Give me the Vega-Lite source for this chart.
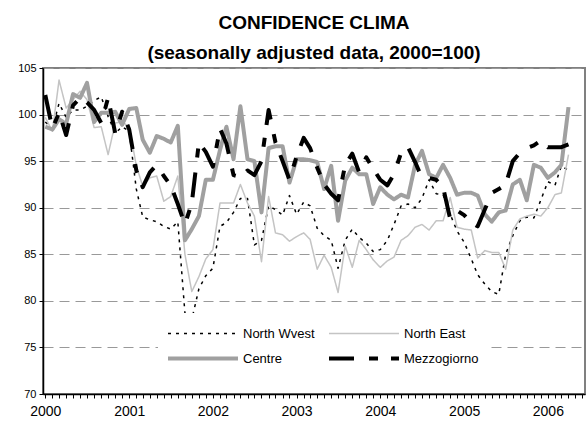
{
  "$schema": "https://vega.github.io/schema/vega-lite/v6.json",
  "width": 542,
  "height": 326,
  "autosize": {"type": "none"},
  "padding": {"left": 43, "top": 68, "right": 3, "bottom": 29},
  "background": "white",
  "title": {
    "text": ["CONFIDENCE CLIMA", "(seasonally adjusted data, 2000=100)"],
    "font": "Liberation Sans",
    "fontSize": 19,
    "fontWeight": "bold",
    "color": "black",
    "lineHeight": 30,
    "anchor": "middle",
    "offset": 3,
    "dy": 4
  },
  "config": {
    "view": {"stroke": "#808080", "strokeWidth": 2},
    "font": "Liberation Sans"
  },
  "data": {
    "values": [
      {"date": "2000-01-01", "North Wvest": 99.2, "North East": 99.7, "Centre": 98.7, "Mezzogiorno": 102.1},
      {"date": "2000-02-01", "North Wvest": 98.5, "North East": 98.2, "Centre": 98.4, "Mezzogiorno": 98.5},
      {"date": "2000-03-01", "North Wvest": 101.2, "North East": 103.7, "Centre": 99.5, "Mezzogiorno": 100.2},
      {"date": "2000-04-01", "North Wvest": 99.7, "North East": 100.7, "Centre": 99.0, "Mezzogiorno": 97.8},
      {"date": "2000-05-01", "North Wvest": 100.5, "North East": 101.6, "Centre": 102.2, "Mezzogiorno": 101.0},
      {"date": "2000-06-01", "North Wvest": 100.5, "North East": 102.5, "Centre": 101.8, "Mezzogiorno": 101.8},
      {"date": "2000-07-01", "North Wvest": 100.9, "North East": 101.6, "Centre": 103.4, "Mezzogiorno": 101.3},
      {"date": "2000-08-01", "North Wvest": 101.5, "North East": 98.6, "Centre": 99.2, "Mezzogiorno": 100.5},
      {"date": "2000-09-01", "North Wvest": 101.9, "North East": 98.7, "Centre": 100.2, "Mezzogiorno": 99.1},
      {"date": "2000-10-01", "North Wvest": 99.8, "North East": 95.7, "Centre": 100.2, "Mezzogiorno": 101.8},
      {"date": "2000-11-01", "North Wvest": 98.0, "North East": 99.1, "Centre": 100.3, "Mezzogiorno": 98.0},
      {"date": "2000-12-01", "North Wvest": 98.7, "North East": 99.2, "Centre": 98.9, "Mezzogiorno": 100.3},
      {"date": "2001-01-01", "North Wvest": 98.2, "North East": 98.7, "Centre": 100.6, "Mezzogiorno": 98.4},
      {"date": "2001-02-01", "North Wvest": 92.0, "North East": 94.5, "Centre": 100.7, "Mezzogiorno": 94.0},
      {"date": "2001-03-01", "North Wvest": 89.0, "North East": 92.3, "Centre": 97.3, "Mezzogiorno": 92.2},
      {"date": "2001-04-01", "North Wvest": 88.7, "North East": 93.2, "Centre": 95.9, "Mezzogiorno": 93.8},
      {"date": "2001-05-01", "North Wvest": 88.5, "North East": 93.4, "Centre": 97.7, "Mezzogiorno": 94.6},
      {"date": "2001-06-01", "North Wvest": 88.0, "North East": 90.7, "Centre": 97.4, "Mezzogiorno": 93.4},
      {"date": "2001-07-01", "North Wvest": 87.7, "North East": 91.2, "Centre": 97.0, "Mezzogiorno": 92.4},
      {"date": "2001-08-01", "North Wvest": 88.5, "North East": 93.4, "Centre": 98.8, "Mezzogiorno": 90.4},
      {"date": "2001-09-01", "North Wvest": 78.7, "North East": 85.0, "Centre": 86.5, "Mezzogiorno": 88.2},
      {"date": "2001-10-01", "North Wvest": 78.0, "North East": 81.0, "Centre": 87.7, "Mezzogiorno": 90.5},
      {"date": "2001-11-01", "North Wvest": 81.3, "North East": 82.6, "Centre": 89.1, "Mezzogiorno": 97.0},
      {"date": "2001-12-01", "North Wvest": 82.7, "North East": 84.5, "Centre": 93.0, "Mezzogiorno": 96.0},
      {"date": "2002-01-01", "North Wvest": 83.5, "North East": 85.5, "Centre": 93.0, "Mezzogiorno": 94.4},
      {"date": "2002-02-01", "North Wvest": 88.0, "North East": 90.5, "Centre": 96.2, "Mezzogiorno": 98.5},
      {"date": "2002-03-01", "North Wvest": 88.4, "North East": 90.5, "Centre": 98.7, "Mezzogiorno": 96.9},
      {"date": "2002-04-01", "North Wvest": 89.5, "North East": 90.5, "Centre": 95.2, "Mezzogiorno": 93.5},
      {"date": "2002-05-01", "North Wvest": 91.0, "North East": 92.5, "Centre": 100.9, "Mezzogiorno": 93.3},
      {"date": "2002-06-01", "North Wvest": 91.0, "North East": 90.5, "Centre": 95.2, "Mezzogiorno": 94.0},
      {"date": "2002-07-01", "North Wvest": 86.0, "North East": 89.1, "Centre": 95.0, "Mezzogiorno": 93.5},
      {"date": "2002-08-01", "North Wvest": 86.5, "North East": 84.2, "Centre": 89.5, "Mezzogiorno": 95.0},
      {"date": "2002-09-01", "North Wvest": 90.2, "North East": 91.2, "Centre": 96.4, "Mezzogiorno": 100.5},
      {"date": "2002-10-01", "North Wvest": 89.8, "North East": 87.3, "Centre": 96.6, "Mezzogiorno": 97.0},
      {"date": "2002-11-01", "North Wvest": 89.2, "North East": 87.1, "Centre": 96.6, "Mezzogiorno": 95.0},
      {"date": "2002-12-01", "North Wvest": 91.3, "North East": 86.4, "Centre": 92.7, "Mezzogiorno": 93.0},
      {"date": "2003-01-01", "North Wvest": 89.3, "North East": 86.9, "Centre": 95.2, "Mezzogiorno": 95.5},
      {"date": "2003-02-01", "North Wvest": 90.6, "North East": 87.3, "Centre": 95.2, "Mezzogiorno": 97.5},
      {"date": "2003-03-01", "North Wvest": 90.2, "North East": 86.6, "Centre": 95.1, "Mezzogiorno": 96.4},
      {"date": "2003-04-01", "North Wvest": 87.8, "North East": 83.4, "Centre": 94.9, "Mezzogiorno": 94.3},
      {"date": "2003-05-01", "North Wvest": 87.0, "North East": 84.9, "Centre": 92.0, "Mezzogiorno": 92.5},
      {"date": "2003-06-01", "North Wvest": 86.5, "North East": 83.6, "Centre": 94.5, "Mezzogiorno": 91.5},
      {"date": "2003-07-01", "North Wvest": 83.5, "North East": 80.9, "Centre": 88.6, "Mezzogiorno": 90.8},
      {"date": "2003-08-01", "North Wvest": 86.5, "North East": 85.9, "Centre": 92.9, "Mezzogiorno": 94.6},
      {"date": "2003-09-01", "North Wvest": 87.7, "North East": 83.6, "Centre": 94.3, "Mezzogiorno": 95.8},
      {"date": "2003-10-01", "North Wvest": 86.8, "North East": 86.5, "Centre": 93.6, "Mezzogiorno": 93.8},
      {"date": "2003-11-01", "North Wvest": 86.2, "North East": 85.5, "Centre": 93.6, "Mezzogiorno": 95.4},
      {"date": "2003-12-01", "North Wvest": 85.3, "North East": 84.4, "Centre": 90.4, "Mezzogiorno": 94.2},
      {"date": "2004-01-01", "North Wvest": 85.5, "North East": 83.6, "Centre": 92.2, "Mezzogiorno": 93.0},
      {"date": "2004-02-01", "North Wvest": 86.5, "North East": 84.3, "Centre": 91.4, "Mezzogiorno": 92.4},
      {"date": "2004-03-01", "North Wvest": 88.2, "North East": 84.7, "Centre": 90.9, "Mezzogiorno": 93.6},
      {"date": "2004-04-01", "North Wvest": 90.2, "North East": 86.5, "Centre": 91.4, "Mezzogiorno": 95.9},
      {"date": "2004-05-01", "North Wvest": 90.4, "North East": 87.0, "Centre": 91.1, "Mezzogiorno": 96.5},
      {"date": "2004-06-01", "North Wvest": 90.0, "North East": 87.9, "Centre": 94.6, "Mezzogiorno": 94.9},
      {"date": "2004-07-01", "North Wvest": 91.0, "North East": 88.2, "Centre": 96.1, "Mezzogiorno": 93.2},
      {"date": "2004-08-01", "North Wvest": 93.0, "North East": 87.6, "Centre": 93.6, "Mezzogiorno": 93.2},
      {"date": "2004-09-01", "North Wvest": 91.5, "North East": 88.6, "Centre": 93.2, "Mezzogiorno": 93.0},
      {"date": "2004-10-01", "North Wvest": 91.4, "North East": 88.6, "Centre": 94.6, "Mezzogiorno": 92.2},
      {"date": "2004-11-01", "North Wvest": 89.3, "North East": 91.1, "Centre": 93.2, "Mezzogiorno": 88.8},
      {"date": "2004-12-01", "North Wvest": 87.5, "North East": 87.9, "Centre": 91.4, "Mezzogiorno": 89.7},
      {"date": "2005-01-01", "North Wvest": 86.3, "North East": 87.7, "Centre": 91.6, "Mezzogiorno": 89.2},
      {"date": "2005-02-01", "North Wvest": 84.5, "North East": 87.6, "Centre": 91.6, "Mezzogiorno": 88.4},
      {"date": "2005-03-01", "North Wvest": 82.8, "North East": 84.6, "Centre": 91.3, "Mezzogiorno": 88.0},
      {"date": "2005-04-01", "North Wvest": 81.8, "North East": 85.4, "Centre": 89.3, "Mezzogiorno": 89.8},
      {"date": "2005-05-01", "North Wvest": 81.0, "North East": 85.2, "Centre": 88.5, "Mezzogiorno": 91.6},
      {"date": "2005-06-01", "North Wvest": 80.7, "North East": 85.2, "Centre": 89.5, "Mezzogiorno": 92.0},
      {"date": "2005-07-01", "North Wvest": 85.0, "North East": 83.4, "Centre": 89.7, "Mezzogiorno": 92.5},
      {"date": "2005-08-01", "North Wvest": 87.0, "North East": 87.6, "Centre": 92.5, "Mezzogiorno": 95.0},
      {"date": "2005-09-01", "North Wvest": 88.6, "North East": 88.8, "Centre": 93.0, "Mezzogiorno": 95.9},
      {"date": "2005-10-01", "North Wvest": 89.0, "North East": 89.1, "Centre": 90.8, "Mezzogiorno": 96.4},
      {"date": "2005-11-01", "North Wvest": 88.9, "North East": 89.3, "Centre": 94.6, "Mezzogiorno": 96.7},
      {"date": "2005-12-01", "North Wvest": 90.8, "North East": 89.1, "Centre": 94.3, "Mezzogiorno": 97.2},
      {"date": "2006-01-01", "North Wvest": 92.8, "North East": 90.0, "Centre": 93.2, "Mezzogiorno": 96.5},
      {"date": "2006-02-01", "North Wvest": 92.4, "North East": 91.4, "Centre": 93.8, "Mezzogiorno": 96.5},
      {"date": "2006-03-01", "North Wvest": 94.5, "North East": 91.6, "Centre": 94.6, "Mezzogiorno": 96.5},
      {"date": "2006-04-01", "North Wvest": 94.0, "North East": 95.7, "Centre": 100.8, "Mezzogiorno": 96.8}
    ]
  },
  "transform": [
    {"fold": ["North Wvest", "North East", "Centre", "Mezzogiorno"], "as": ["series", "value"]}
  ],
  "mark": {"type": "line", "strokeCap": "butt", "strokeJoin": "round"},
  "encoding": {
    "x": {
      "field": "date",
      "type": "temporal",
      "scale": {
        "type": "utc",
        "domain": [
          {"year": 1999, "month": 12, "date": 22, "utc": true},
          {"year": 2006, "month": 6, "date": 12, "utc": true}
        ]
      },
      "axis": {
        "title": null,
        "grid": false,
        "tickCount": {"interval": "month", "step": 1},
        "labelExpr": "utcFormat(datum.value, '%m') == '01' ? utcFormat(datum.value, '%Y') : ''",
        "labelOverlap": false,
        "labelBound": false,
        "labelFlush": false,
        "labelFont": "Liberation Sans",
        "labelFontSize": 14,
        "labelColor": "black",
        "labelPadding": 6,
        "tickSize": 4,
        "tickColor": "black",
        "tickWidth": 1,
        "domainColor": "black",
        "domainWidth": 1.5
      }
    },
    "y": {
      "field": "value",
      "type": "quantitative",
      "scale": {"domain": [70, 105], "zero": false, "nice": false},
      "axis": {
        "title": null,
        "values": [70, 75, 80, 85, 90, 95, 100, 105],
        "grid": true,
        "gridColor": "#999999",
        "gridDash": [10, 6],
        "gridWidth": 1,
        "labelFont": "Liberation Sans",
        "labelFontSize": 11,
        "labelColor": "black",
        "labelPadding": 3,
        "tickSize": 4,
        "tickColor": "black",
        "domainColor": "black",
        "domainWidth": 1.5
      }
    },
    "color": {
      "field": "series",
      "type": "nominal",
      "scale": {
        "domain": ["North Wvest", "North East", "Centre", "Mezzogiorno"],
        "range": ["#000000", "#c4c4c4", "#a0a0a0", "#000000"]
      },
      "legend": {
        "title": null,
        "orient": "none",
        "direction": "horizontal",
        "legendX": 115,
        "legendY": 245,
        "columns": 2,
        "symbolType": "stroke",
        "symbolSize": 4900,
        "clipHeight": 25,
        "labelFont": "Liberation Sans",
        "labelFontSize": 13,
        "labelColor": "black",
        "labelOffset": 3,
        "labelLimit": 200,
        "columnPadding": 12,
        "rowPadding": 0,
        "fillColor": "white",
        "padding": 8,
        "gridAlign": "each",
        "encode": {
          "symbols": {
            "update": {
              "strokeWidth": {"scale": "strokeWidth", "field": "value"}
            }
          }
        }
      }
    },
    "strokeWidth": {
      "field": "series",
      "type": "nominal",
      "scale": {
        "type": "ordinal",
        "domain": ["North Wvest", "North East", "Centre", "Mezzogiorno"],
        "range": [1.5, 1.5, 4, 4]
      }
    },
    "strokeDash": {
      "field": "series",
      "type": "nominal",
      "scale": {
        "domain": ["North Wvest", "North East", "Centre", "Mezzogiorno"],
        "range": [[3, 5], [1, 0], [1, 0], [25, 15, 9, 13]]
      }
    }
  }
}
